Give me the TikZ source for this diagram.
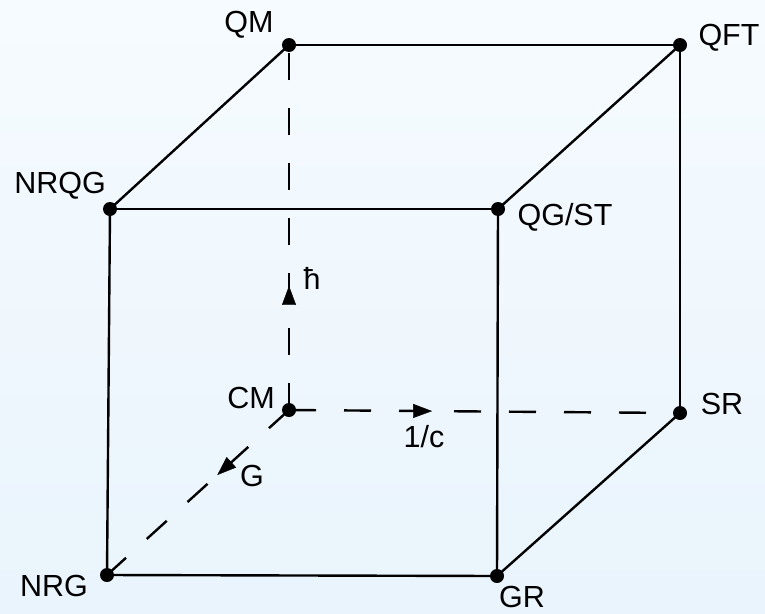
\documentclass[tikz,border=0pt]{standalone}
\usepackage{fontspec}
\setmainfont{Liberation Sans}
\usetikzlibrary{arrows.meta,decorations.markings}
\begin{document}
\begin{tikzpicture}[x=1pt,y=-1pt,
  edge/.style={line width=2.4pt,black},
  dashedge/.style={line width=2.4pt,black,dash pattern=on 27pt off 28pt},
  lbl/.style={font=\fontsize{30.5}{33}\selectfont,inner sep=0pt,anchor=center},
  dot/.style={circle,fill=black,inner sep=0pt,minimum size=14pt},
  arrmark/.style={postaction={decorate},decoration={markings,mark=at position #1 with {\arrow{Triangle[length=19pt,width=14pt]}}}}]
\shade[top color={rgb,255:red,246;green,251;blue,255},bottom color={rgb,255:red,233;green,244;blue,252}] (0,0) rectangle (765,613);
\useasboundingbox (0,0) rectangle (765,613);
\coordinate (QM) at (289,45);
\coordinate (QFT) at (680,45);
\coordinate (NRQG) at (110,209);
\coordinate (QGST) at (498,209);
\coordinate (CM) at (289,410);
\coordinate (SR) at (680,413);
\coordinate (NRG) at (107,575);
\coordinate (GR) at (497,576);
% dashed axes
\draw[dashedge] (CM) -- (QM);
\draw[dashedge] (CM) -- (SR);
\draw[dashedge] (CM) -- (NRG);
\path[arrmark=0.34] (CM) -- (QM);
\path[arrmark=0.366] (CM) -- (SR);
\path[arrmark=0.394] (CM) -- (NRG);
% solid edges
\draw[edge] (QM) -- (QFT);
\draw[edge] (QM) -- (NRQG);
\draw[edge] (QFT) -- (QGST);
\draw[edge] (NRQG) -- (QGST);
\draw[edge] (QFT) -- (SR);
\draw[edge] (NRQG) -- (NRG);
\draw[edge] (QGST) -- (GR);
\draw[edge] (NRG) -- (GR);
\draw[edge] (GR) -- (SR);
% dots
\foreach \p in {QM,QFT,NRQG,QGST,CM,SR,NRG,GR} \node[dot] (d\p) at (\p) {};
% labels
\node[lbl] (lQM) at (249,25) {QM};
\node[lbl] (lQFT) at (729,38) {QFT};
\node[lbl] (lNRQG) at (60,186) {NRQG};
\node[lbl] (lQGST) at (565,217) {QG/ST};
\node[lbl] (lCM) at (251,398) {CM};
\node[lbl] (lSR) at (722,404) {SR};
\node[lbl] (lNRG) at (54,586) {NRG};
\node[lbl] (lGR) at (522,597) {GR};
\node[lbl] (lh) at (312,278) {ħ};
\node[lbl] (lc) at (424,437) {1/c};
\node[lbl] (lG) at (252,476) {G};
\end{tikzpicture}
\end{document}
